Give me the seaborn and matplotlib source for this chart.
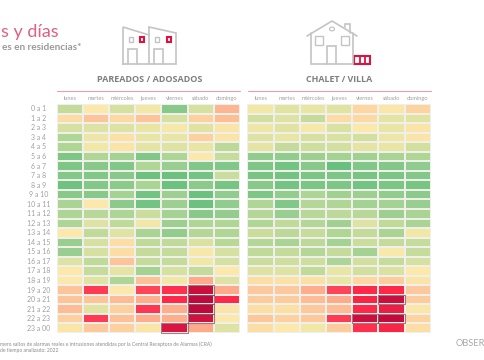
#!/usr/bin/env python3

import matplotlib
matplotlib.use("Agg")
import matplotlib.pyplot as plt
import numpy as np
import seaborn as sns
from matplotlib.colors import LinearSegmentedColormap
from matplotlib.lines import Line2D
from matplotlib.patches import Circle, Rectangle

W, H = 485, 360

days = ["lunes", "martes", "miércoles", "jueves", "viernes", "sábado", "domingo"]
hours = ["0 a 1", "1 a 2", "2 a 3", "3 a 4", "4 a 5", "5 a 6", "6 a 7", "7 a 8", "8 a 9",
         "9 a 10", "10 a 11", "11 a 12", "12 a 13", "13 a 14", "14 a 15", "15 a 16",
         "16 a 17", "17 a 18", "18 a 19", "19 a 20", "20 a 21", "21 a 22", "22 a 23", "23 a 00"]

pareados = [
    [3.5, 5.0, 4.0, 4.7, 2.0, 4.0, 7.0],
    [5.6, 6.5, 5.7, 6.5, 4.0, 6.0, 6.7],
    [4.0, 4.2, 4.2, 4.5, 4.8, 4.3, 5.2],
    [3.0, 4.6, 5.3, 4.5, 4.5, 6.0, 5.2],
    [3.0, 4.7, 5.2, 4.4, 4.2, 4.5, 3.3],
    [1.7, 3.0, 2.7, 1.8, 2.9, 5.0, 3.6],
    [1.7, 2.0, 1.8, 3.0, 2.4, 1.8, 1.8],
    [1.9, 1.8, 2.0, 1.2, 1.2, 1.4, 3.7],
    [1.3, 1.9, 2.1, 2.8, 1.2, 2.1, 1.5],
    [2.0, 2.0, 2.7, 1.4, 2.5, 1.2, 2.2],
    [2.8, 5.0, 2.1, 1.4, 2.5, 1.2, 2.2],
    [2.9, 3.2, 2.9, 3.7, 2.7, 2.0, 2.3],
    [2.9, 4.2, 3.4, 4.7, 2.5, 3.0, 3.0],
    [5.0, 3.4, 4.3, 2.8, 2.3, 3.1, 3.0],
    [2.4, 4.0, 5.5, 3.4, 3.4, 4.1, 3.2],
    [2.4, 4.0, 5.5, 3.5, 3.5, 4.8, 4.0],
    [4.2, 3.4, 6.5, 3.5, 3.5, 4.7, 4.0],
    [5.0, 3.6, 4.4, 2.7, 4.0, 3.5, 5.0],
    [5.0, 4.3, 3.0, 6.6, 4.7, 7.5, 4.2],
    [6.5, 8.7, 5.0, 8.6, 8.9, 9.8, 7.5],
    [6.5, 6.5, 6.8, 7.3, 9.0, 10.0, 9.0],
    [6.8, 4.3, 6.0, 8.8, 7.3, 10.0, 5.2],
    [6.0, 8.7, 6.6, 7.3, 7.3, 9.7, 5.0],
    [5.2, 6.3, 6.0, 5.2, 9.6, 7.5, 4.2],
]

chalet = [
    [4.7, 4.3, 4.5, 4.3, 5.8, 5.1, 5.9],
    [3.9, 4.2, 3.5, 5.6, 5.7, 4.4, 4.3],
    [4.6, 4.3, 4.8, 4.1, 5.0, 4.5, 5.2],
    [4.2, 4.5, 4.0, 4.1, 3.9, 4.6, 5.2],
    [4.4, 3.5, 3.8, 3.9, 4.4, 4.5, 3.9],
    [2.2, 2.2, 2.5, 2.7, 2.6, 2.8, 3.0],
    [1.7, 1.4, 2.0, 1.1, 1.8, 1.9, 2.2],
    [1.5, 1.4, 1.6, 1.7, 1.5, 1.6, 1.9],
    [2.0, 1.4, 1.6, 1.7, 1.4, 1.6, 1.5],
    [1.7, 2.3, 2.9, 2.6, 2.5, 2.2, 2.1],
    [3.0, 1.8, 3.1, 3.0, 2.7, 2.7, 2.4],
    [3.1, 2.4, 3.2, 3.3, 3.2, 2.5, 2.8],
    [3.0, 3.4, 3.1, 2.6, 4.2, 3.4, 2.8],
    [3.7, 3.3, 3.6, 3.0, 3.5, 2.8, 4.7],
    [3.1, 2.8, 3.3, 2.7, 3.7, 3.5, 3.6],
    [3.4, 3.5, 3.1, 3.5, 2.7, 4.9, 3.6],
    [3.7, 3.8, 3.8, 2.9, 3.9, 3.6, 4.0],
    [4.2, 4.2, 3.4, 4.5, 3.9, 4.1, 5.0],
    [5.5, 5.3, 5.4, 4.5, 5.8, 6.2, 5.2],
    [6.3, 6.3, 7.3, 8.6, 9.0, 9.0, 6.3],
    [6.2, 6.2, 6.8, 7.4, 9.1, 9.8, 6.2],
    [5.5, 5.4, 6.3, 6.8, 9.0, 9.3, 5.1],
    [6.4, 6.0, 6.3, 8.7, 9.8, 9.9, 5.9],
    [5.5, 5.0, 4.7, 6.2, 8.9, 9.1, 5.5],
]

GRAY = "#7f7f7f"
LIGHT = "#c4c4c4"
LABEL = "#a0a0a0"
RED = "#e0103f"
PINK = "#e8a0ae"

sns.set_theme(style="white")
plt.rcParams["font.family"] = ["Lato", "DejaVu Sans"]

scale = LinearSegmentedColormap.from_list("heat", [
    (0.00, "#66bf7d"), (0.11, "#88c98a"), (0.22, "#b0d696"), (0.33, "#d5e0a0"),
    (0.44, "#fbe9aa"), (0.55, "#fdd3a0"), (0.67, "#fdb592"), (0.78, "#ff9b80"),
    (0.85, "#ff4058"), (0.89, "#ff2848"), (1.00, "#c0083c"),
])


def px_box(x0, y0, x1, y1):
    return [x0 / W, 1 - y1 / H, (x1 - x0) / W, (y1 - y0) / H]


def draw_heat(fig, box, values, show_hours):
    ax = fig.add_axes(px_box(*box))
    data = np.array(values)
    sns.heatmap(data, ax=ax, cmap=scale, vmin=1, vmax=10, cbar=False, linewidths=0.3,
                linecolor="#f0f0ea", xticklabels=days,
                yticklabels=hours if show_hours else False)
    # the worst cells carry a gray outline
    for row, col in np.argwhere(data >= 9.55):
        ax.add_patch(Rectangle((col, row), 1, 1, fill=False, edgecolor="#7a4a56", alpha=0.7,
                               lw=0.8, clip_on=False))
    ax.xaxis.tick_top()
    ax.tick_params(axis="x", length=0, pad=2.5, labelsize=4.1, labelcolor=LABEL, rotation=0)
    ax.tick_params(axis="y", length=0, pad=13, labelsize=5, labelcolor=LABEL, rotation=0)
    for t in ax.get_yticklabels():
        t.set_horizontalalignment("center")
    ax.set_xlabel("")
    ax.set_ylabel("")
    for s in ax.spines.values():
        s.set_visible(False)
    return ax


def px_line(fig, xs, ys, color=LIGHT, lw=1.2):
    fig.add_artist(Line2D([x / W for x in xs], [1 - y / H for y in ys], color=color, lw=lw,
                          solid_joinstyle="miter", transform=fig.transFigure))


def px_rect(fig, x0, y0, x1, y1, color=LIGHT, lw=1.0):
    fig.add_artist(Rectangle((x0 / W, 1 - y1 / H), (x1 - x0) / W, (y1 - y0) / H, fill=False,
                             edgecolor=color, lw=lw, transform=fig.transFigure))


def draw_icons(fig):
    # semi-detached houses
    px_line(fig, [123, 123, 149, 149, 123], [64, 27, 35, 64, 64])
    px_line(fig, [149, 149, 176, 176, 149], [35, 27, 33, 64, 64])
    px_line(fig, [128, 128, 137, 137], [64, 49, 49, 64])
    px_line(fig, [154, 154, 163, 163], [64, 49, 49, 64])
    px_rect(fig, 129, 37, 133, 42)
    px_rect(fig, 155, 37, 159, 42)
    px_rect(fig, 140, 37, 144, 42, RED, 1.5)
    px_rect(fig, 167, 37, 171, 42, RED, 1.5)
    # detached house
    px_line(fig, [307, 332, 357], [36, 21, 36])
    px_line(fig, [311, 311, 353, 353], [33, 64, 64, 33])
    px_line(fig, [345, 345, 350, 350], [27, 24, 24, 33])
    px_line(fig, [327, 327, 336, 336], [64, 46, 46, 64])
    px_rect(fig, 315, 36, 323, 45)
    px_rect(fig, 341, 36, 349, 45)
    fig.add_artist(Circle((332 / W, 1 - 29 / H), 2.5 / W, fill=False, edgecolor=LIGHT, lw=0.9,
                          transform=fig.transFigure))
    px_rect(fig, 354, 56, 370, 64, RED, 1.5)
    px_line(fig, [359.5, 359.5], [56, 64], RED, 1.3)
    px_line(fig, [365, 365], [56, 64], RED, 1.3)


def px_text(fig, x, y, s, **kw):
    fig.text(x / W, 1 - y / H, s, va="center", **kw)


fig = plt.figure(figsize=(W / 100, H / 100), dpi=100, facecolor="white")

draw_heat(fig, (56.7, 104, 240, 333), pareados, True)
draw_heat(fig, (247.5, 104, 430.7, 333), chalet, False)
draw_icons(fig)

px_line(fig, [57, 240], [91, 91], PINK, 0.8)
px_line(fig, [248, 431], [91, 91], PINK, 0.8)

head_font = ["Open Sans", "DejaVu Sans"]
px_text(fig, 150, 80, "PAREADOS / ADOSADOS", ha="center", fontsize=6.5, fontweight="bold", color=GRAY, family=head_font)
px_text(fig, 339, 80, "CHALET / VILLA", ha="center", fontsize=6.4, fontweight="bold", color=GRAY, family=head_font)

px_text(fig, 59, 32, "s y días", ha="right", fontsize=13, color="#e0607f")
px_text(fig, 82, 48, "es en residencias*", ha="right", fontsize=7.2, color="#9a9a9a", fontweight="bold")

px_text(fig, 0, 344.5, "mero saltos de alarmas reales e intrusiones atendidas por la Central Receptora de Alarmas (CRA)",
        ha="left", fontsize=3.65, color="#8a8a8a")
px_text(fig, 0, 350.5, "de tiempo analizado: 2022", ha="left", fontsize=3.65, color="#8a8a8a")
px_text(fig, 456, 344, "OBSER", ha="left", fontsize=6.7, color="#a8a8a8")

fig.savefig("out.png", dpi=100)
plt.close(fig)
